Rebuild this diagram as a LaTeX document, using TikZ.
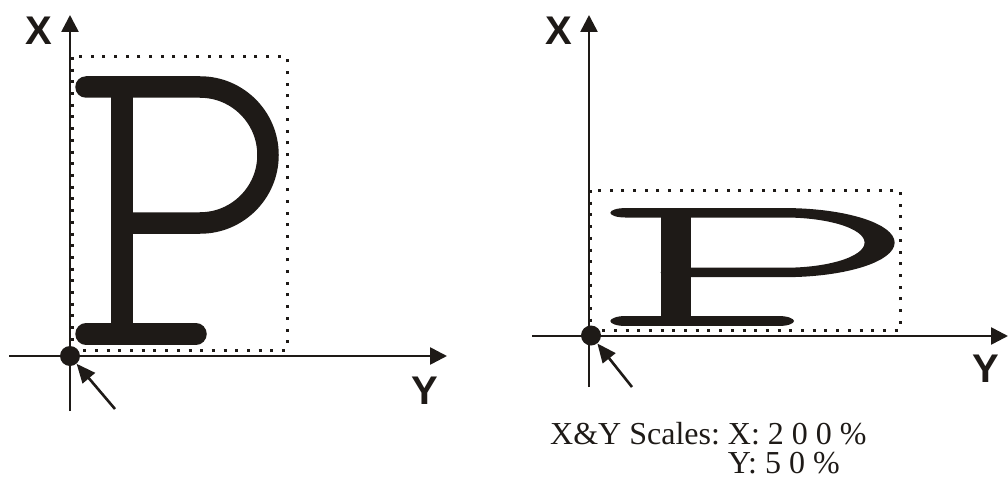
\documentclass[tikz,border=0pt]{standalone}
\usepackage{fontspec}
\setmainfont{Liberation Serif}
\newfontfamily\labfont{Liberation Sans}
\usetikzlibrary{arrows.meta}
\definecolor{ink}{HTML}{1E1A17}
\frenchspacing
\tikzset{
  axis/.style={draw=ink, line width=2.6pt, -{Triangle[length=17pt,width=17pt]}},
  pointer/.style={draw=ink, line width=2.6pt, -{Triangle[length=19pt,width=16pt]}},
  dotbox/.style={draw=ink, line width=3pt, dash pattern=on 3pt off 8.7pt},
  origin/.style={circle, fill=ink, inner sep=0pt, minimum size=20pt},
  axlabel/.style={font=\labfont\bfseries\fontsize{40}{40}\selectfont, text=ink, inner sep=0pt, anchor=base},
  letter/.style={draw=ink, line width=21.5pt, line cap=round},
  caption/.style={font=\fontsize{32}{32}\selectfont\frenchspacing, text=ink, inner sep=0pt, anchor=base west}
}
\newcommand{\drawP}{%
  \draw[letter] (86,393) -- (200,393) arc[start angle=90, end angle=-90, radius=68] -- (122,257);
  \draw[letter, line cap=butt] (122,393) -- (122,146);
  \draw[letter] (86,146) -- (196,146);
}
\begin{document}
\begin{tikzpicture}[x=1pt,y=1pt]
\useasboundingbox (0,0) rectangle (1008,480);
% ---------- left panel ----------
\coordinate (lxb) at (70,69);
\coordinate (lxt) at (70,465);
\coordinate (lyl) at (9,124);
\coordinate (lyr) at (447,124);
\draw[dotbox] (72,423) rectangle (287,130);
\drawP
\draw[axis] (lxb) -- (lxt);
\draw[axis] (lyl) -- (lyr);
\node[origin] (lo) at (70,124) {};
\coordinate (lp) at (115,71);
\draw[pointer] (lp) -- (lo);
\node[axlabel] (lX) at (38.5,435) {X};
\node[axlabel] (lY) at (425,76) {Y};
% ---------- right panel ----------
\coordinate (rxb) at (589,93);
\coordinate (rxt) at (589,465);
\coordinate (ryl) at (532,144);
\coordinate (ryr) at (1008,144);
\draw[dotbox] (590,290) rectangle (900,150);
\begin{scope}[transform canvas={shift={(505.2pt,94.8pt)}, xscale=1.397, yscale=0.4387}]
\drawP
\end{scope}
\draw[axis] (rxb) -- (rxt);
\draw[axis] (ryl) -- (ryr);
\node[origin] (ro) at (591,144.5) {};
\coordinate (rp) at (632,93);
\draw[pointer] (rp) -- (ro);
\node[axlabel] (rX) at (558.5,435) {X};
\node[axlabel] (rY) at (986,98) {Y};
\node[caption] (cap1) at (550,36) {X\&Y Scales: X: 2 0 0 \%};
\node[caption] (cap2) at (550,7) {\phantom{X\&Y Scales: }Y: 5 0 \%};
\end{tikzpicture}
\end{document}
